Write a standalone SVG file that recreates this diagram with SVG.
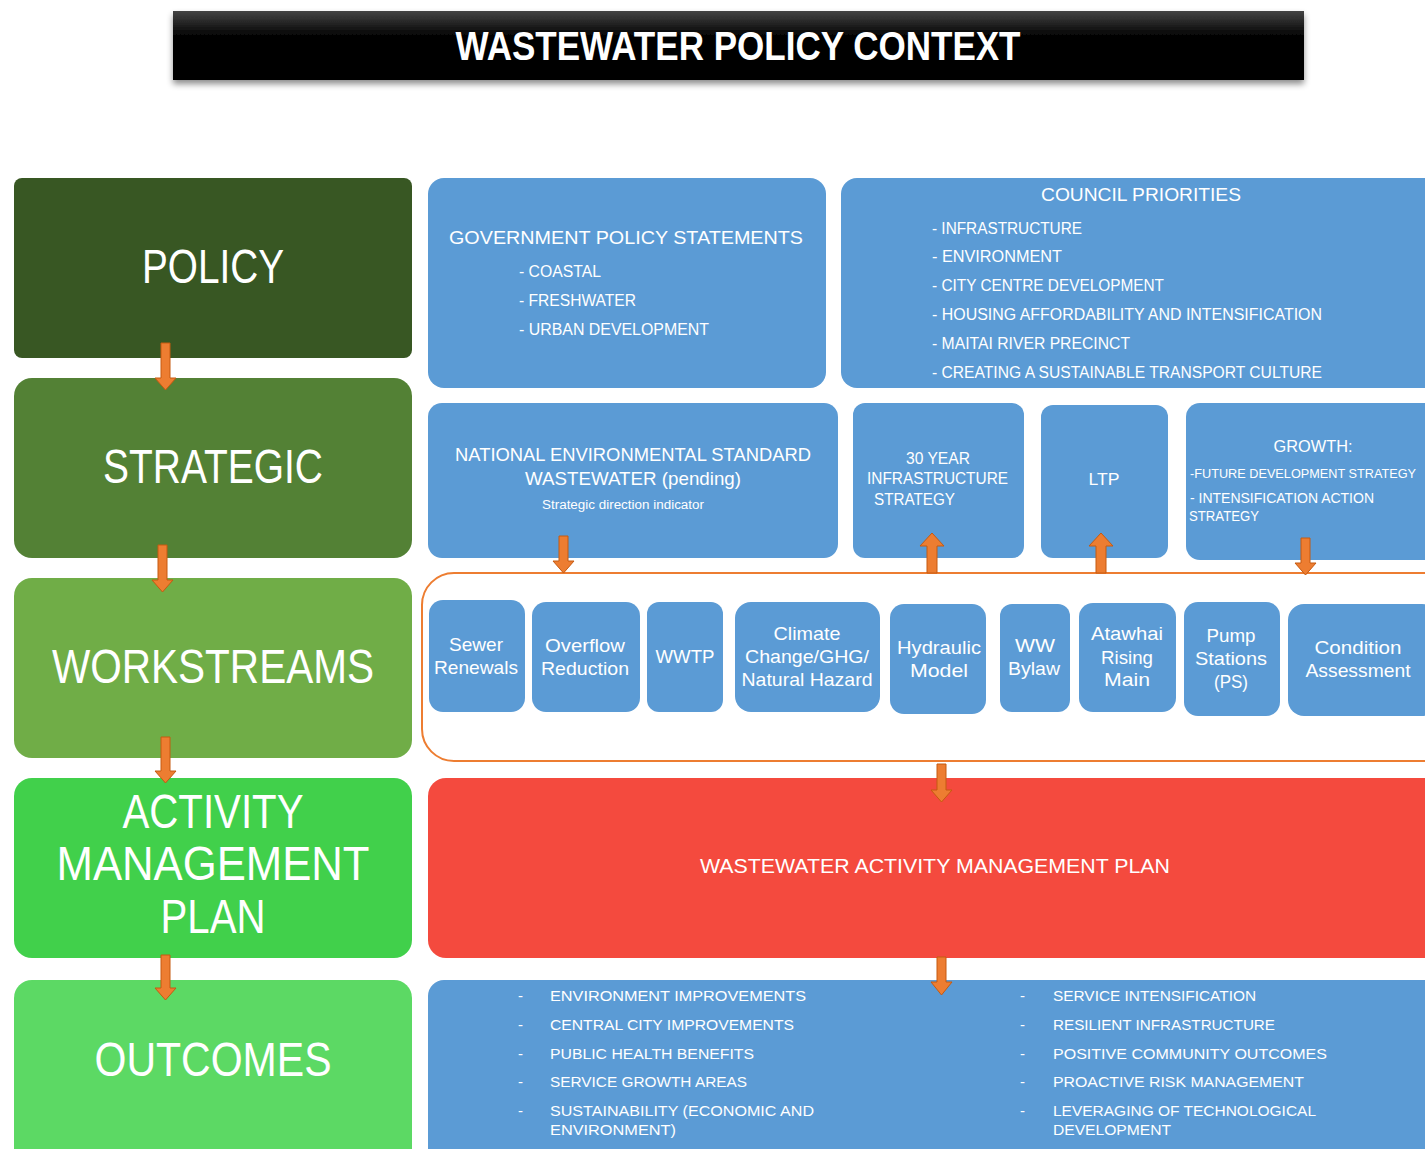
<svg xmlns="http://www.w3.org/2000/svg" width="1425" height="1149" viewBox="0 0 1425 1149">
<defs>
<linearGradient id="tg" x1="0" y1="0" x2="0" y2="1">
<stop offset="0" stop-color="#444"/>
<stop offset="0.35" stop-color="#050505"/>
<stop offset="1" stop-color="#000"/>
</linearGradient>
<filter id="sh" x="-5%" y="-20%" width="110%" height="160%">
<feDropShadow dx="0" dy="4" stdDeviation="3" flood-color="#000" flood-opacity="0.45"/>
</filter>
</defs>
<style>
text{font-family:"Liberation Sans",Arial,sans-serif;fill:#fff}
.big{font-size:48px;text-anchor:middle}
.blue{fill:#5B9BD5}
.h{font-size:19px}
.it{font-size:16px}
.ws{font-size:19px;text-anchor:middle}
.oc{font-size:15px}
.c{text-anchor:middle}
.arr{fill:#ED7D31;stroke:#C55A11;stroke-width:1}
</style>
<rect width="1425" height="1149" fill="#fff"/>

<g id="title">
<rect x="173" y="11" width="1131" height="69" fill="url(#tg)" filter="url(#sh)"/>
<text x="738" y="60" font-size="40" font-weight="bold" text-anchor="middle" textLength="565" lengthAdjust="spacingAndGlyphs">WASTEWATER POLICY CONTEXT</text>
</g>

<g id="policy">
<rect x="14" y="178" width="398" height="180" rx="8" fill="#385723"/>
<text class="big" x="213" y="283" textLength="142" lengthAdjust="spacingAndGlyphs">POLICY</text>
</g>
<g id="strategic">
<rect x="14" y="378" width="398" height="180" rx="18" fill="#538135"/>
<text class="big" x="213" y="483" textLength="220" lengthAdjust="spacingAndGlyphs">STRATEGIC</text>
</g>
<g id="workstreams">
<rect x="14" y="578" width="398" height="180" rx="18" fill="#70AD47"/>
<text class="big" x="213" y="683" textLength="322" lengthAdjust="spacingAndGlyphs">WORKSTREAMS</text>
</g>
<g id="amp">
<rect x="14" y="778" width="398" height="180" rx="18" fill="#41D04B"/>
<text class="big" x="213" y="828" textLength="181" lengthAdjust="spacingAndGlyphs">ACTIVITY</text>
<text class="big" x="213" y="880" textLength="313" lengthAdjust="spacingAndGlyphs">MANAGEMENT</text>
<text class="big" x="213" y="933" textLength="105" lengthAdjust="spacingAndGlyphs">PLAN</text>
</g>
<g id="outcomes">
<rect x="14" y="980" width="398" height="190" rx="18" fill="#5CD964"/>
<text class="big" x="213" y="1076" textLength="237" lengthAdjust="spacingAndGlyphs">OUTCOMES</text>
</g>

<g id="gov-policy">
<rect class="blue" x="428" y="178" width="398" height="210" rx="16"/>
<text class="h c" x="626" y="244" textLength="354" lengthAdjust="spacingAndGlyphs">GOVERNMENT POLICY STATEMENTS</text>
<text class="it" x="519" y="277" textLength="82" lengthAdjust="spacingAndGlyphs">- COASTAL</text>
<text class="it" x="519" y="306" textLength="117" lengthAdjust="spacingAndGlyphs">- FRESHWATER</text>
<text class="it" x="519" y="335" textLength="190" lengthAdjust="spacingAndGlyphs">- URBAN DEVELOPMENT</text>
</g>

<g id="council-priorities">
<rect class="blue" x="841" y="178" width="620" height="210" rx="16"/>
<text class="h c" x="1141" y="201" textLength="200" lengthAdjust="spacingAndGlyphs">COUNCIL PRIORITIES</text>
<text class="it" x="932" y="234" textLength="150" lengthAdjust="spacingAndGlyphs">- INFRASTRUCTURE</text>
<text class="it" x="932" y="262" textLength="130" lengthAdjust="spacingAndGlyphs">- ENVIRONMENT</text>
<text class="it" x="932" y="291" textLength="232" lengthAdjust="spacingAndGlyphs">- CITY CENTRE DEVELOPMENT</text>
<text class="it" x="932" y="320" textLength="390" lengthAdjust="spacingAndGlyphs">- HOUSING AFFORDABILITY AND INTENSIFICATION</text>
<text class="it" x="932" y="349" textLength="198" lengthAdjust="spacingAndGlyphs">- MAITAI RIVER PRECINCT</text>
<text class="it" x="932" y="378" textLength="390" lengthAdjust="spacingAndGlyphs">- CREATING A SUSTAINABLE TRANSPORT CULTURE</text>
</g>

<g id="nes">
<rect class="blue" x="428" y="403" width="410" height="155" rx="14"/>
<text class="h c" x="633" y="461" textLength="356" lengthAdjust="spacingAndGlyphs">NATIONAL ENVIRONMENTAL STANDARD</text>
<text class="h c" x="633" y="485" textLength="216" lengthAdjust="spacingAndGlyphs">WASTEWATER (pending)</text>
<text class="c" x="623" y="509" font-size="12" textLength="162" lengthAdjust="spacingAndGlyphs">Strategic direction indicator</text>
</g>

<g id="infra-strategy">
<rect class="blue" x="853" y="403" width="171" height="155" rx="12"/>
<text class="it" x="906" y="464" textLength="64" lengthAdjust="spacingAndGlyphs">30 YEAR</text>
<text class="it" x="867" y="484" textLength="141" lengthAdjust="spacingAndGlyphs">INFRASTRUCTURE</text>
<text class="it" x="874" y="505" textLength="81" lengthAdjust="spacingAndGlyphs">STRATEGY</text>
</g>

<g id="ltp">
<rect class="blue" x="1041" y="405" width="127" height="153" rx="12"/>
<text class="c" x="1104" y="485" font-size="17" textLength="31" lengthAdjust="spacingAndGlyphs">LTP</text>
</g>

<g id="growth">
<rect class="blue" x="1186" y="403" width="270" height="157" rx="14"/>
<text class="c" x="1313" y="452" font-size="16" textLength="79" lengthAdjust="spacingAndGlyphs">GROWTH:</text>
<text x="1190" y="478" font-size="12.6" textLength="226" lengthAdjust="spacingAndGlyphs">-FUTURE DEVELOPMENT STRATEGY</text>
<text x="1190" y="503" font-size="14" textLength="184" lengthAdjust="spacingAndGlyphs">- INTENSIFICATION ACTION</text>
<text x="1189" y="521" font-size="14" textLength="70" lengthAdjust="spacingAndGlyphs">STRATEGY</text>
</g>

<g id="workstream-group">
<rect x="422" y="573" width="1040" height="188" rx="32" fill="#fff" stroke="#ED7D31" stroke-width="2"/>
</g>

<g id="ws-sewer">
<rect class="blue" x="429" y="600" width="96" height="112" rx="14"/>
<text class="ws" x="476" y="651" textLength="54" lengthAdjust="spacingAndGlyphs">Sewer</text>
<text class="ws" x="476" y="674" textLength="84" lengthAdjust="spacingAndGlyphs">Renewals</text>
</g>
<g id="ws-overflow">
<rect class="blue" x="532" y="602" width="108" height="110" rx="14"/>
<text class="ws" x="585" y="652" textLength="80" lengthAdjust="spacingAndGlyphs">Overflow</text>
<text class="ws" x="585" y="675" textLength="88" lengthAdjust="spacingAndGlyphs">Reduction</text>
</g>
<g id="ws-wwtp">
<rect class="blue" x="647" y="602" width="76" height="110" rx="12"/>
<text class="ws" x="685" y="663" textLength="59" lengthAdjust="spacingAndGlyphs">WWTP</text>
</g>
<g id="ws-climate">
<rect class="blue" x="735" y="602" width="145" height="110" rx="16"/>
<text class="ws" x="807" y="640" textLength="67" lengthAdjust="spacingAndGlyphs">Climate</text>
<text class="ws" x="807" y="663" textLength="124" lengthAdjust="spacingAndGlyphs">Change/GHG/</text>
<text class="ws" x="807" y="686" textLength="131" lengthAdjust="spacingAndGlyphs">Natural Hazard</text>
</g>
<g id="ws-hydraulic">
<rect class="blue" x="890" y="604" width="96" height="110" rx="14"/>
<text class="ws" x="939" y="654" textLength="84" lengthAdjust="spacingAndGlyphs">Hydraulic</text>
<text class="ws" x="939" y="677" textLength="58" lengthAdjust="spacingAndGlyphs">Model</text>
</g>
<g id="ws-bylaw">
<rect class="blue" x="1000" y="604" width="70" height="108" rx="12"/>
<text class="ws" x="1035" y="652" textLength="40" lengthAdjust="spacingAndGlyphs">WW</text>
<text class="ws" x="1034" y="675" textLength="52" lengthAdjust="spacingAndGlyphs">Bylaw</text>
</g>
<g id="ws-atawhai">
<rect class="blue" x="1079" y="603" width="97" height="109" rx="14"/>
<text class="ws" x="1127" y="640" textLength="72" lengthAdjust="spacingAndGlyphs">Atawhai</text>
<text class="ws" x="1127" y="664" textLength="52" lengthAdjust="spacingAndGlyphs">Rising</text>
<text class="ws" x="1127" y="686" textLength="46" lengthAdjust="spacingAndGlyphs">Main</text>
</g>
<g id="ws-pump">
<rect class="blue" x="1184" y="602" width="96" height="114" rx="14"/>
<text class="ws" x="1231" y="642" textLength="49" lengthAdjust="spacingAndGlyphs">Pump</text>
<text class="ws" x="1231" y="665" textLength="72" lengthAdjust="spacingAndGlyphs">Stations</text>
<text class="ws" x="1231" y="688" textLength="34" lengthAdjust="spacingAndGlyphs">(PS)</text>
</g>
<g id="ws-condition">
<rect class="blue" x="1288" y="604" width="150" height="112" rx="16"/>
<text class="ws" x="1358" y="654" textLength="87" lengthAdjust="spacingAndGlyphs">Condition</text>
<text class="ws" x="1358" y="677" textLength="105" lengthAdjust="spacingAndGlyphs">Assessment</text>
</g>

<g id="wamp">
<rect x="428" y="778" width="1040" height="180" rx="18" fill="#F44A3E"/>
<text class="c" x="935" y="873" font-size="20" textLength="470" lengthAdjust="spacingAndGlyphs">WASTEWATER ACTIVITY MANAGEMENT PLAN</text>
</g>

<g id="outcome-list">
<rect class="blue" x="428" y="980" width="1040" height="200" rx="16"/>
<text class="oc" x="518" y="1001">-</text>
<text class="oc" x="550" y="1001" textLength="256" lengthAdjust="spacingAndGlyphs">ENVIRONMENT IMPROVEMENTS</text>
<text class="oc" x="518" y="1030">-</text>
<text class="oc" x="550" y="1030" textLength="244" lengthAdjust="spacingAndGlyphs">CENTRAL CITY IMPROVEMENTS</text>
<text class="oc" x="518" y="1059">-</text>
<text class="oc" x="550" y="1059" textLength="204" lengthAdjust="spacingAndGlyphs">PUBLIC HEALTH  BENEFITS</text>
<text class="oc" x="518" y="1087">-</text>
<text class="oc" x="550" y="1087" textLength="197" lengthAdjust="spacingAndGlyphs">SERVICE GROWTH AREAS</text>
<text class="oc" x="518" y="1116">-</text>
<text class="oc" x="550" y="1116" textLength="264" lengthAdjust="spacingAndGlyphs">SUSTAINABILITY (ECONOMIC AND</text>
<text class="oc" x="550" y="1135" textLength="126" lengthAdjust="spacingAndGlyphs">ENVIRONMENT)</text>
<text class="oc" x="1020" y="1001">-</text>
<text class="oc" x="1053" y="1001" textLength="203" lengthAdjust="spacingAndGlyphs">SERVICE INTENSIFICATION</text>
<text class="oc" x="1020" y="1030">-</text>
<text class="oc" x="1053" y="1030" textLength="222" lengthAdjust="spacingAndGlyphs">RESILIENT INFRASTRUCTURE</text>
<text class="oc" x="1020" y="1059">-</text>
<text class="oc" x="1053" y="1059" textLength="274" lengthAdjust="spacingAndGlyphs">POSITIVE COMMUNITY OUTCOMES</text>
<text class="oc" x="1020" y="1087">-</text>
<text class="oc" x="1053" y="1087" textLength="251" lengthAdjust="spacingAndGlyphs">PROACTIVE RISK MANAGEMENT</text>
<text class="oc" x="1020" y="1116">-</text>
<text class="oc" x="1053" y="1116" textLength="263" lengthAdjust="spacingAndGlyphs">LEVERAGING OF TECHNOLOGICAL</text>
<text class="oc" x="1053" y="1135" textLength="118" lengthAdjust="spacingAndGlyphs">DEVELOPMENT</text>
</g>

<g id="connectors">
<polygon class="arr" points="161,343 170,343 170,378 176,378 165.5,390 155,378 161,378"/>
<polygon class="arr" points="158,545 167,545 167,580 173,580 162.5,592 152,580 158,580"/>
<polygon class="arr" points="161,737 170,737 170,771 176,771 165.5,783 155,771 161,771"/>
<polygon class="arr" points="161,955 170,955 170,988 176,988 165.5,1000 155,988 161,988"/>
<polygon class="arr" points="559,536 568,536 568,561 574,561 563.5,573 553,561 559,561"/>
<polygon class="arr" points="927,573 937,573 937,546 944,546 932,533 920,546 927,546"/>
<polygon class="arr" points="1096,573 1106,573 1106,546 1113,546 1101,533 1089,546 1096,546"/>
<polygon class="arr" points="1301,538 1310,538 1310,563 1316,563 1305.5,575 1295,563 1301,563"/>
<polygon class="arr" points="937,764 946,764 946,790 952,790 941.5,802 931,790 937,790"/>
<polygon class="arr" points="937,957 946,957 946,982 952,982 941.5,995 931,982 937,982"/>
</g>
</svg>
